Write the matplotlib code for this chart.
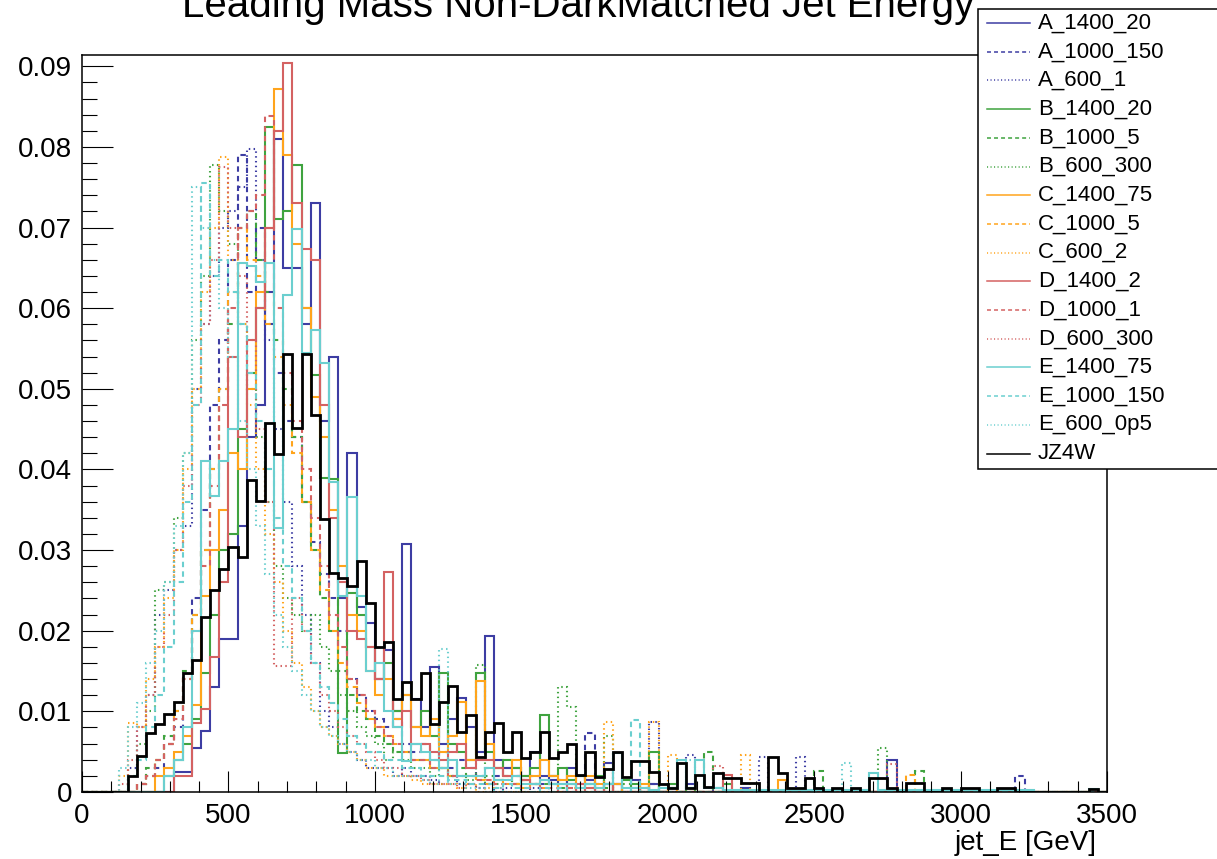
import numpy as np
import matplotlib
matplotlib.use("Agg")
import matplotlib.pyplot as plt
from matplotlib.lines import Line2D
from matplotlib.patches import Rectangle
from matplotlib.ticker import MultipleLocator, FuncFormatter

plt.rcParams['font.family'] = ['Liberation Sans', 'DejaVu Sans']

# normalised jet energy histograms, bin contents in units of 1e-3
# 112 bins of 31.25 GeV from 0 to 3500 GeV, trailing empty bins omitted
N_BINS = 112
E_MAX = 3500.0

A_1400_20 = [0, 0, 0, 0, 0, 0, 0, 0, 0, 0,
             2.5, 2.5, 5.5, 7.6, 13, 19, 19, 33, 44, 48,
             62, 81, 65, 65, 58, 73, 46, 54, 24, 42,
             23, 21, 14, 17.6, 10, 30.7, 11.5, 8, 15.5, 6,
             9, 11.7, 8, 5, 19.3, 4, 3, 3, 2, 5,
             2, 1.5, 0, 3, 2, 1.5, 0, 3.6, 1, 0,
             1.5, 0, 1, 0, 0.5, 0, 1, 0, 0, 0.5,
             0, 0, 0.5, 0, 0, 0, 0, 0, 0, 0,
             0, 0, 0, 0, 0, 0, 0, 0, 4.0]
A_1000_150 = [0, 0, 0, 0, 0, 0, 1, 2, 3, 6,
              8, 14, 24, 35, 48, 56, 66, 79, 62, 70,
              58, 52, 46, 44, 36, 31, 27, 24, 20, 14,
              12, 10, 9, 8, 9, 6, 5, 6, 4, 5,
              3, 4, 3, 2, 3, 2, 3, 2, 1.5, 2,
              1, 2, 1.5, 1, 1, 7.3, 1, 0, 1, 0,
              0.5, 0, 1, 0, 0, 0, 0, 0, 0, 0,
              0, 0, 0, 0, 0, 0, 0, 0, 0, 0,
              0, 0, 0, 0, 0, 0, 0, 0, 0, 0,
              0, 0, 0, 0, 0, 0, 0, 0, 0, 0,
              0, 0, 2.0]
A_600_1 = [0, 0, 0, 0, 0, 3, 8, 12, 22, 25,
           30, 33, 50, 58, 64, 70, 72, 75, 79.7, 66,
           56, 45, 36, 28, 22, 16, 10, 8, 6, 5,
           4, 3, 3, 3, 2, 3, 2, 2, 1.5, 1,
           2, 1, 1, 0.5, 1, 0, 0.5, 1, 0, 0.5,
           0, 0, 0, 0, 0, 0, 0, 0, 0, 0,
           0, 0, 8.7, 0, 0, 0, 4.6, 0, 0, 0,
           0, 0, 0, 0, 4.4, 0, 0, 0, 4.4]
B_1400_20 = [0, 0, 0, 0, 0, 0, 0, 0, 0, 2,
             4, 6, 9, 14.7, 22, 30, 32, 45, 52, 60,
             82.5, 71, 72, 77.7, 60, 51.7, 39, 38.8, 4.8, 24.7,
             22, 18, 14, 16, 10, 12, 8, 10, 7, 14.7,
             6, 5, 4, 14.7, 5, 3, 4, 3, 2, 3,
             9.6, 2, 3, 1.5, 2, 1, 2, 1, 0, 1.5,
             1, 0, 4.9, 0, 1, 0, 0.5, 0, 0, 0,
             1]
B_1000_5 = [0, 0, 0, 0, 0, 0, 1, 3, 4, 7,
            10, 15, 22, 30, 40, 50, 58, 70, 72, 66,
            62, 56, 50, 44, 36, 30, 24, 20, 15, 12,
            10, 9, 7, 6, 5, 5, 4, 4, 3, 3,
            2, 3, 2, 2, 2, 1.5, 2, 1, 1.5, 1,
            1, 1, 0.5, 1, 0.5, 1, 0, 0.5, 0, 1,
            0, 0.5, 0, 0, 0, 0, 0, 0, 4.9, 0,
            0, 0, 0, 0, 0, 0, 0, 0, 0, 0,
            2.6, 0, 0, 0, 0, 0, 0, 0, 0, 0,
            0, 2.6]
B_600_300 = [0, 0, 0, 0, 0, 2, 6, 10, 25, 26,
             34, 42, 56, 64, 77.7, 72, 68, 58, 50, 44,
             36, 28, 24, 22, 20, 22, 18, 15, 12, 10,
             8, 7, 6, 4, 5, 4, 3, 3, 2, 3,
             2, 2, 1.5, 15.7, 1, 1, 1.5, 1, 0, 1,
             0, 0, 13, 10.6, 0, 0, 0.5, 7, 0, 0,
             0, 0, 0, 0, 0, 0, 0, 0, 0, 0,
             0, 0, 0, 0, 0, 0, 0, 0, 0, 0,
             0, 0, 0, 0, 0, 0, 0, 5.4]
C_1400_75 = [0, 0, 0, 0, 0, 0, 0, 0, 2, 3,
             5, 7, 10.8, 24.3, 30, 35, 42, 40, 50, 62,
             70, 87.2, 79, 68, 60, 49, 44, 35, 28, 22,
             20, 15, 12, 14, 9, 12, 8, 7, 9, 5,
             7, 11.1, 4, 13.8, 6, 3, 2, 4, 1.5, 2,
             4, 2, 1.5, 2, 0, 2, 1, 0, 1, 0,
             0, 1, 0, 0, 0.5, 0, 0, 0, 0, 0,
             0, 0, 0, 0, 0, 0, 1.5]
C_1000_5 = [0, 0, 0, 0, 0, 0, 1, 2, 4, 6,
            10, 14, 22, 30, 40, 50, 62, 70, 66, 64,
            58, 54, 48, 42, 36, 30, 25, 20, 16, 13,
            11, 9, 8, 7, 6, 5, 4, 4, 3, 3,
            2, 2, 2, 1.5, 1, 1.5, 1, 1, 0.5, 1,
            0.5, 1, 0, 0.5, 0, 0, 0.5, 0, 0, 0,
            0, 0, 0, 0, 0, 0, 0, 0, 0, 0,
            0, 0, 0, 0, 0, 0, 0, 0, 0, 0,
            0, 0, 0, 0, 0, 0, 0, 0, 0, 0,
            2.1]
C_600_2 = [0, 0, 0, 0, 2, 8.5, 8, 14, 18, 24,
           30, 40, 50, 62, 70, 78.7, 66, 58, 48, 40,
           32, 26, 20, 16, 13, 10, 8, 7, 6, 5,
           4, 3, 3, 2, 2, 2, 1.5, 1, 1, 1,
           1, 0.5, 1, 0, 0.5, 0, 0, 0, 0, 0,
           0, 0, 0, 0, 0, 0, 0, 8.7, 0, 0,
           0, 0, 8.7, 0, 4.6, 0, 0, 0, 0, 0,
           0, 0, 4.6]
D_1400_2 = [0, 0, 0, 0, 0, 0, 0, 0, 0, 0,
            2, 2, 8.5, 10.3, 16.8, 26, 54, 44, 56, 60,
            70, 82, 90.4, 73, 67.3, 66, 48, 34, 26, 20,
            19, 18, 14, 27.3, 8, 10, 6, 6, 5, 4,
            5, 6, 3, 4, 4, 3, 2, 2, 1.5, 1,
            1.5, 1, 1, 0, 1, 0.5, 0, 1, 0, 0,
            0, 0.5, 0, 0, 0, 0, 0, 0, 0, 0,
            2.1]
D_1000_1 = [0, 0, 0, 0, 0, 0, 1, 2, 4, 6,
            9, 14, 20, 28, 38, 48, 60, 70, 72, 74,
            83.8, 60, 52, 46, 40, 34, 28, 22, 18, 14,
            12, 10, 8, 7, 6, 5, 4, 4, 3, 3,
            2, 2, 2, 1.5, 1.5, 1, 1, 1, 0.5, 1,
            0.5, 0.5, 0, 0.5, 0, 0.5]
D_600_300 = [0, 0, 0, 0, 1, 4, 8, 12, 18, 22,
             30, 38, 48, 58, 66, 77.5, 70, 64, 56, 45,
             36, 15.6, 15.6, 24, 20, 16, 12, 10, 8, 7,
             6, 5, 4, 3, 3, 2, 2, 1.5, 1, 1,
             1, 0.5, 1, 0.5, 0, 0.5, 0, 0, 0, 0,
             0, 0, 0, 0, 0, 0, 0, 0, 0, 0,
             0, 0, 0, 0, 0, 0, 0, 0, 0, 3.2,
             0, 0, 0, 0, 0, 0, 0, 0, 0, 0,
             0, 0, 0, 0, 0, 0, 0, 0, 3.5]
E_1400_75 = [0, 0, 0, 0, 0, 0, 0, 0, 0, 2,
             4, 8, 20, 41, 36.7, 41, 45, 65.6, 65.2, 63.3,
             65.6, 32.7, 61.6, 69.8, 54.4, 57.3, 53.2, 38.5, 24.3, 36.6,
             24.3, 15, 16, 10, 8, 3.8, 6, 5, 4, 3,
             4, 2, 2, 2, 3, 1.5, 1.5, 2, 1, 1,
             1.5, 1, 1, 1, 0.5, 1, 0.5, 1, 4.8, 0.5,
             0.5, 0.5, 0.3, 0.5, 0.5, 4.0, 0.5, 4.0, 0.5, 0.5,
             0.3, 0.3, 0.3, 0.3, 0.3, 0.3, 0.3, 0.3, 0.3, 0.3,
             0.3, 0.3, 0.3, 0.3, 0.3, 0.3, 2.4, 0.3, 0.3, 0.3,
             0.3, 0.3, 0.3, 0.3, 0.3, 0.3, 0.3, 0.3, 0.3, 0.3,
             0.3, 0.3, 0.3, 0.3, 0, 0, 0, 0, 0, 0,
             0.4]
E_1000_150 = [0, 0, 0, 0, 0, 2, 4, 8, 12, 18,
              26, 36, 48, 75.5, 64, 66, 62, 58, 52, 46,
              40, 34, 28, 24, 20, 16, 13, 11, 9, 7,
              6, 5, 5, 4, 4, 3, 3, 2, 2, 2,
              1.5, 1.5, 1, 1, 1, 0.5, 1, 0.5, 0.5, 0,
              0.5, 0, 0.5, 0, 0, 0, 0, 0, 0, 0,
              8.9]
E_600_0p5 = [0, 0, 0, 0, 3, 8, 11, 16, 20, 26,
             33, 42, 75, 70, 66, 60, 54, 46, 40, 33,
             27, 22, 18, 15, 12, 10, 8, 7, 6, 5,
             4, 4, 3, 3, 2, 2, 2, 1.5, 1, 17.7,
             1, 1, 0.5, 0.5, 0, 0.5, 0, 0, 0, 0,
             0, 0, 0, 0, 0, 0, 0, 0, 0, 0,
             0, 0, 0, 0, 0, 0, 4.0, 0, 0, 0,
             0, 0, 0, 0, 0, 0, 0, 0, 0, 0,
             0, 0, 0, 3.6]
JZ4W = [0, 0, 0, 0, 0, 2.0, 4.5, 7.3, 8.4, 9.7,
        11.2, 14.7, 16.4, 21.7, 25.0, 27.6, 30.4, 29.1, 38.7, 36.1,
        45.7, 41.9, 54.3, 45.1, 54.3, 46.7, 33.9, 27.1, 26.5, 25.5,
        28.7, 23.4, 18.0, 18.6, 11.5, 13.7, 11.5, 14.8, 8.4, 11.1,
        13.2, 7.5, 9.6, 4.4, 7.5, 8.6, 4.9, 7.5, 4.2, 4.9,
        7.5, 4.2, 4.9, 5.9, 2.1, 4.9, 1.8, 2.8, 4.9, 1.8,
        3.8, 3.8, 2.5, 1.0, 0.5, 3.6, 0.5, 2.1, 0.6, 2.3,
        1.7, 1.7, 1.1, 1.1, 0, 4.3, 2.3, 0.5, 0.5, 1.7,
        0.5, 0, 0.5, 0, 0.5, 0, 1.7, 1.7, 0.5, 0,
        1.1, 1.1, 0, 0, 0.5, 0, 0.5, 0.5, 0, 0,
        0.5, 0.5, 0, 0, 0, 0, 0, 0, 0, 0,
        0.4]

BLUE = '#3d3da3'
GREEN = '#3fa33f'
ORANGE = '#ffa41c'
RED = '#d46262'
CYAN = '#6bcfcf'

SOLID = '-'
DASHED = (0, (2.6, 2.0))
DOTTED = (0, (0.7, 1.6))

samples = [
    ('A_1400_20', A_1400_20, BLUE, SOLID),
    ('A_1000_150', A_1000_150, BLUE, DASHED),
    ('A_600_1', A_600_1, BLUE, DOTTED),
    ('B_1400_20', B_1400_20, GREEN, SOLID),
    ('B_1000_5', B_1000_5, GREEN, DASHED),
    ('B_600_300', B_600_300, GREEN, DOTTED),
    ('C_1400_75', C_1400_75, ORANGE, SOLID),
    ('C_1000_5', C_1000_5, ORANGE, DASHED),
    ('C_600_2', C_600_2, ORANGE, DOTTED),
    ('D_1400_2', D_1400_2, RED, SOLID),
    ('D_1000_1', D_1000_1, RED, DASHED),
    ('D_600_300', D_600_300, RED, DOTTED),
    ('E_1400_75', E_1400_75, CYAN, SOLID),
    ('E_1000_150', E_1000_150, CYAN, DASHED),
    ('E_600_0p5', E_600_0p5, CYAN, DOTTED),
    ('JZ4W', JZ4W, 'black', SOLID),
]


def to_hist(vals):
    h = np.zeros(N_BINS)
    h[:len(vals)] = vals
    return h * 1e-3


W, H = 1217, 859
fig = plt.figure(figsize=(W / 100, H / 100), dpi=100)
ax = fig.add_axes([82 / W, 1 - 792 / H, (1107 - 82) / W, (792 - 55) / H])

edges = np.linspace(0, E_MAX, N_BINS + 1)
for label, vals, color, ls in samples:
    lw = 2.0 if label == 'JZ4W' else 1.5
    ax.stairs(to_hist(vals), edges, baseline=0, color=color, lw=lw,
              linestyle=ls)

ax.set_xlim(0, E_MAX)
ax.set_ylim(0, 0.0914)

ax.xaxis.set_major_locator(MultipleLocator(500))
ax.xaxis.set_minor_locator(MultipleLocator(100))
ax.yaxis.set_major_locator(MultipleLocator(0.01))
ax.yaxis.set_minor_locator(MultipleLocator(0.002))
ax.yaxis.set_major_formatter(
    FuncFormatter(lambda v, _: '0' if abs(v) < 1e-9 else f'{v:.2f}'))

ax.tick_params(axis='both', which='both', direction='in', top=False,
               right=False, width=0.8, labelsize=20)
ax.tick_params(axis='x', which='major', length=15, pad=8)
ax.tick_params(axis='x', which='minor', length=8)
ax.tick_params(axis='y', which='major', length=22, pad=7)
ax.tick_params(axis='y', which='minor', length=11)
for sp in ax.spines.values():
    sp.set_linewidth(1.1)

fig.text(1097 / W, 1 - 843 / H, 'jet_E [GeV]', ha='right', va='center',
         fontsize=20)
# title sits partly above the canvas, as in the saved ROOT canvas
fig.text(182 / W, 1 - 17 / H, 'Leading Mass Non-DarkMatched Jet Energy',
         ha='left', va='baseline', fontsize=29)

# legend box in the top right corner, overlapping the frame
fig.add_artist(Rectangle((978 / W, 1 - 469 / H), (1240 - 978) / W,
                         (469 - 9) / H, transform=fig.transFigure,
                         facecolor='white', edgecolor='black', lw=1.1,
                         zorder=5))
for k, (label, _, color, ls) in enumerate(samples):
    fy = 1 - (23 + 28.7 * k) / H
    fig.add_artist(Line2D([987 / W, 1030 / W], [fy, fy], color=color,
                          lw=1.1, linestyle=ls, transform=fig.transFigure,
                          zorder=6))
    fig.text(1038 / W, fy, label, ha='left', va='center', fontsize=16,
             zorder=7)

fig.savefig('out.png', dpi=100)
